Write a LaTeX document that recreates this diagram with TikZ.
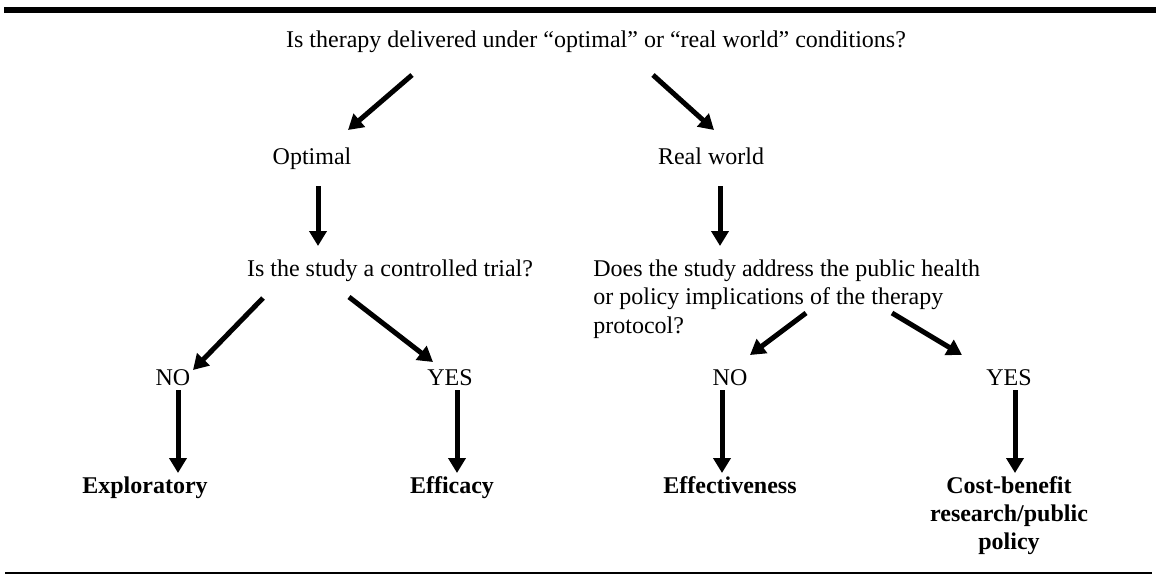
\documentclass[tikz,border=0pt]{standalone}
\usepackage{fontspec}
\setmainfont{Liberation Serif}
\usetikzlibrary{arrows.meta}
\begin{document}
\begin{tikzpicture}[x=0.5pt,y=-0.5pt,
  txt/.style={inner sep=0pt,anchor=base,font=\fontsize{12}{14.4}\selectfont},
  res/.style={txt,font=\fontsize{12}{14}\selectfont\bfseries,align=center},
  arr/.style={line width=2.5pt,-{Triangle[length=7.5pt,width=8.5pt]}}]
\useasboundingbox (0,0) rectangle (1156,575);
\fill (4,7) rectangle (1156,13);
\coordinate (rl) at (5,573);
\coordinate (rr) at (1152,573);
\draw[line width=1pt] (rl) -- (rr);
% nodes
\node[txt] (title) at (596,47) {Is therapy delivered under “optimal” or “real world” conditions?};
\node[txt] (opt) at (312,164) {Optimal};
\node[txt] (rw) at (711,164) {Real world};
\node[txt] (q1) at (390,276) {Is the study a controlled trial?};
\node[txt,align=left,anchor=base west] (q2) at (593,333.6) {Does the study address the public health\\or policy implications of the therapy\\protocol?};
\node[txt] (no1) at (173,385) {NO};
\node[txt] (yes1) at (450,385) {YES};
\node[txt] (no2) at (730,385) {NO};
\node[txt] (yes2) at (1009,385) {YES};
\node[res] (expl) at (145,493) {Exploratory};
\node[res] (effi) at (452,493) {Efficacy};
\node[res] (effe) at (730,493) {Effectiveness};
\node[res,anchor=base] (cb) at (1009,549) {Cost-benefit\\research/public\\policy};
% arrow end points
\coordinate (a1s) at (412,75);  \coordinate (a1e) at (348,130);
\coordinate (a2s) at (653,75);  \coordinate (a2e) at (714,130);
\coordinate (a3s) at (318,186); \coordinate (a3e) at (318,246);
\coordinate (a4s) at (720,186); \coordinate (a4e) at (720,246);
\coordinate (a5s) at (263,298); \coordinate (a5e) at (193,370);
\coordinate (a6s) at (349,297); \coordinate (a6e) at (433,362);
\coordinate (a7s) at (806,313); \coordinate (a7e) at (750,355);
\coordinate (a8s) at (892,313); \coordinate (a8e) at (962,355);
\coordinate (a9s) at (178,390); \coordinate (a9e) at (178,473);
\coordinate (a10s) at (457,390); \coordinate (a10e) at (457,473);
\coordinate (a11s) at (722,390); \coordinate (a11e) at (722,473);
\coordinate (a12s) at (1015,390); \coordinate (a12e) at (1015,473);
\foreach \i in {1,...,12} {\draw[arr] (a\i s) -- (a\i e);}
\end{tikzpicture}
\end{document}
